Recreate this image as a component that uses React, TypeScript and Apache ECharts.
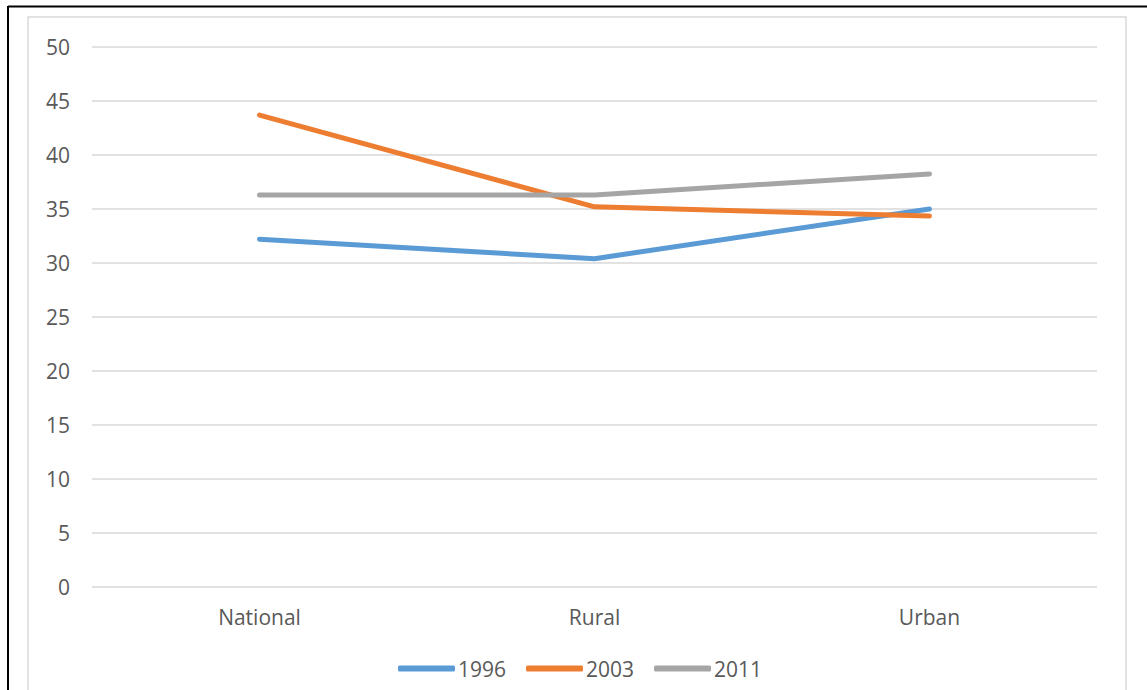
import React, { useEffect, useRef } from "react";
import * as echarts from "echarts";

const categories = ["National", "Rural", "Urban"];
const s1996 = [32.2, 30.4, 35.0];
const s2003 = [43.7, 35.2, 34.35];
const s2011 = [36.3, 36.3, 38.25];
const seriesNames = ["1996", "2003", "2011"];
const colors = ["#5B9BD5", "#ED7D31", "#A5A5A5"];

export default function App() {
  const ref = useRef<HTMLDivElement>(null);
  useEffect(() => {
    if (!ref.current) return;
    const chart = echarts.init(ref.current, null, { renderer: "svg" });
    const font = "'Open Sans', 'Noto Sans', sans-serif";
    const data = [s1996, s2003, s2011];
    chart.setOption({
      animation: false,
      backgroundColor: "#ffffff",
      textStyle: { fontFamily: font },
      grid: { left: 92, right: 50, top: 47, bottom: 103, containLabel: false },
      xAxis: {
        type: "category",
        data: categories,
        boundaryGap: true,
        axisLine: { show: false },
        axisTick: { show: false },
        axisLabel: { color: "#595959", fontSize: 21, fontFamily: font, margin: 19 },
      },
      yAxis: {
        type: "value",
        min: 0,
        max: 50,
        interval: 5,
        axisLine: { show: false },
        axisTick: { show: false },
        splitLine: { lineStyle: { color: "#D9D9D9", width: 1.5 } },
        axisLabel: { color: "#595959", fontSize: 21, fontFamily: font, margin: 22 },
      },
      legend: {
        bottom: 6,
        left: 393,
        itemWidth: 57,
        itemHeight: 6,
        itemGap: 20,
        icon: "roundRect",
        textStyle: { color: "#595959", fontSize: 21, fontFamily: font, padding: [0, 0, 0, -2] },
        data: seriesNames,
      },
      graphic: [
        { type: "rect", shape: { x: 28, y: 17, width: 1098, height: 720 }, style: { fill: "none", stroke: "#D9D9D9", lineWidth: 1.5 }, silent: true },
        { type: "line", shape: { x1: 8, y1: 6.5, x2: 1147, y2: 6.5 }, style: { stroke: "#000", lineWidth: 2 }, silent: true },
        { type: "line", shape: { x1: 8, y1: 6, x2: 8, y2: 690 }, style: { stroke: "#000", lineWidth: 2 }, silent: true },
      ],
      series: seriesNames.map((name, i) => ({
        name,
        type: "line",
        data: data[i],
        symbol: "none",
        color: colors[i],
        lineStyle: { color: colors[i], width: 5, cap: "round", join: "round" },
      })),
    });
    return () => chart.dispose();
  }, []);
  return (
    <div
      ref={ref}
      style={{ position: "fixed", left: 0, top: 0, width: 1147, height: 690 }}
    />
  );
}
